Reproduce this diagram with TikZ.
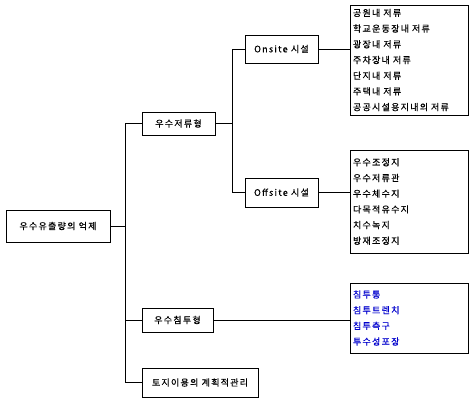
\documentclass[tikz,border=0pt]{standalone}
\usepackage{fontspec}
\setmainfont{Noto Sans CJK KR}[LetterSpace=14, FakeBold=0.6]
\usepackage{tikz}
\definecolor{listblue}{RGB}{0,0,204}

\begin{document}
\begin{tikzpicture}[
			x=1pt, y=-1pt,
			line width=0.7pt,
			every node/.style={
					font=\fontsize{9}{15.7}\selectfont,
					inner sep=0pt
				},
			box/.style={draw, align=center},
			listbox/.style={draw, align=left, text width=112pt, minimum width=118pt}
		]
		\useasboundingbox (0,0) rectangle (475,401);

		\node[box, minimum width=104pt, minimum height=32pt] (root) at (58,226) {우수유출량의 억제};

		\node[box, minimum width=73pt, minimum height=23pt] (stor) at (178.5,123.5) {우수저류형};
		\node[box, minimum width=71pt, minimum height=24pt] (infil) at (177.5,320) {우수침투형};
		\node[box, minimum width=116pt, minimum height=29pt] (plan) at (200,382.5) {토지이용의 계획적관리};

		\node[box, minimum width=73pt, minimum height=28pt] (onsite) at (281.5,49) {Onsite 시설};
		\node[box, minimum width=73pt, minimum height=29pt] (offsite) at (281.5,192.5) {Offsite 시설};

		% storage lists
		\node[listbox, minimum height=110pt] (list1) at (409,60) {공원내 저류\\학교운동장내 저류\\광장내 저류\\주차장내 저류\\단지내 저류\\주택내 저류\\공공시설용지내의 저류};
		\node[listbox, minimum height=103pt] (list2) at (409,201.5) {우수조정지\\우수저류관\\우수체수지\\다목적유수지\\치수녹지\\방재조정지};
		% infiltration list
		\node[listbox, minimum height=70pt, text=listblue] (list3) at (409,318) {침투통\\침투트렌치\\침투측구\\투수성포장};

		\draw (root.east) -- ++(15,0) coordinate (j1);
		\draw (stor.west) -| (j1);
		\draw (infil.west) -| (j1);
		\draw (plan.west) -| (j1);

		\draw (stor.east) -- ++(17,0) coordinate (j2);
		\draw (onsite.west) -| (j2);
		\draw (offsite.west) -| (j2);

		\draw (onsite.east) -- (onsite.east -| list1.west);
		\draw (offsite.east) -- (offsite.east -| list2.west);
		\draw (infil.east) -- (infil.east -| list3.west);
	\end{tikzpicture}
\end{document}
